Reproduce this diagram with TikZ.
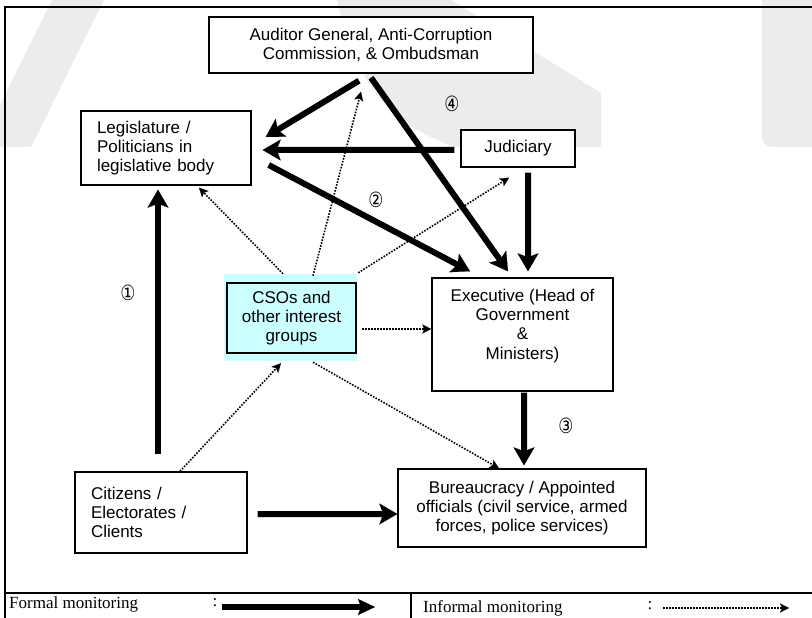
\documentclass[tikz,border=0pt]{standalone}
\usepackage{graphicx}
\usepackage{fontspec}
\setmainfont{Liberation Sans}
\newfontfamily\legendfont{Liberation Serif}
\newfontfamily\circfont{DejaVu Sans}
\usetikzlibrary{arrows.meta,calc}
\definecolor{csocyan}{RGB}{204,255,255}
\definecolor{wmgray}{RGB}{236,236,236}
\begin{document}
\begin{tikzpicture}[x=1bp,y=-1bp,
  box/.style={draw, line width=1.4bp, fill=white, inner sep=0pt,
    font=\fontsize{17bp}{19.3bp}\selectfont},
  boxtext/.style={inner sep=0pt, font=\fontsize{17bp}{19.3bp}\selectfont},
  formal/.style={line width=6bp, -{Stealth[length=18bp,width=21bp,inset=4bp,line width=0.1bp]}},
  formallegend/.style={line width=5.5bp, -{Stealth[length=17bp,width=16bp,inset=3bp,line width=0.1bp]}},
  informal/.style={line width=1.6bp, dash pattern=on 1.6bp off 1.4bp,
    -{Stealth[length=9bp,width=9bp,inset=2bp,line width=0.1bp]}},
  num/.style={inner sep=0pt, font=\circfont\fontsize{21bp}{21bp}\selectfont},
  legendtext/.style={inner sep=0pt, font=\legendfont\fontsize{17bp}{19bp}\selectfont}]
\clip (0,0) rectangle (812,618);
\fill[white] (0,0) rectangle (812,618);
% faint watermark
\fill[wmgray] (0,147) -- (31,147) -- (104,0) -- (52,0) -- (0,105) -- cycle;
\fill[wmgray] (337,0) -- (451,0) -- (601,93) -- (601,147) -- (455,147)
  .. controls (395,125) and (360,95) .. (337,0) -- cycle;
\fill[wmgray, rounded corners=10bp] (762,-20) rectangle (840,147);
% frame
\draw[line width=2bp] (5,630) -- (5,7) -- (830,7);
\draw[line width=2bp] (5,593) -- (830,593);
\draw[line width=1.5bp] (411,593) -- (411,630);
% cso halo
\fill[csocyan] (224,274) rectangle (357,361);
% boxes
\node[box, minimum width=324bp, minimum height=56bp, align=center] (aud) at (371,45)
  {Auditor General, Anti-Corruption\\Commission, \& Ombudsman};
\node[box, minimum width=170bp, minimum height=74bp, text width=138bp, inner xsep=16bp, align=left] (leg) at (166,148)
  {Legislature /\\Politicians in\\legislative body};
\node[box, minimum width=114bp, minimum height=37bp] (jud) at (518,148.5) {Judiciary};
\node[box, fill=csocyan, line width=2.5bp, minimum width=129bp, minimum height=70bp, align=center] (cso) at (291.5,318)
  {CSOs and\\other interest\\groups};
\node[box, minimum width=181bp, minimum height=113bp] (exe) at (522.5,334.5) {};
\node[boxtext, align=center, anchor=north] (exetext) at ($(exe.north)+(0,11.5)$)
  {Executive (Head of\\Government\\\&\\Ministers)};
\node[box, minimum width=172bp, minimum height=81bp, text width=140bp, inner xsep=16bp, align=left] (cit) at (161,512.5)
  {Citizens /\\Electorates /\\Clients};
\node[box, minimum width=248bp, minimum height=78bp, align=center] (bur) at (522,508)
  {Bureaucracy / Appointed\\officials (civil service, armed\\forces, police services)};
% numbers
\node[num] (n1) at (128,293) {\scalebox{0.8}[1]{①}};
\node[num] (n2) at (376,200) {\scalebox{0.8}[1]{②}};
\node[num] (n3) at (566,426) {\scalebox{0.8}[1]{③}};
\node[num] (n4) at (452,104) {\scalebox{0.8}[1]{④}};
% formal monitoring
\draw[formal] ($(aud.south)+(-12,7)$) -- ($(leg.east)+(14,-11)$);
\draw[formal] ($(aud.south)+(0,4)$) -- ($(exe.north)+(-14.5,-6)$);
\draw[formal] ($(jud.west)+(-6,1.5)$) -- ($(leg.east)+(11,2)$);
\draw[formal] ($(leg.east)+(17,17)$) -- ($(exe.north)+(-52.5,-6)$);
\draw[formal] ($(jud.south)+(10,5)$) -- ($(exe.north)+(5.5,-6)$);
\draw[formal] ($(exe.south)+(1.5,1)$) -- ($(bur.north)+(2,-3)$);
\draw[formal] ($(cit.north)+(-3,-17)$) -- ($(leg.south)+(-8,4)$);
\draw[formal] ($(cit.east)+(10,1.5)$) -- ($(bur.west)+(0,6)$);
% informal monitoring
\draw[informal] ($(cso.north)+(-8.5,-8)$) -- ($(leg.south)+(33,2)$);
\draw[informal] ($(cso.north)+(21.5,-6)$) -- ($(aud.south)+(-10,18)$);
\draw[informal] ($(cso.north east)+(1,-9)$) -- ($(jud.south)+(-9,10)$);
\draw[informal] ($(cso.east)+(5,11)$) -- ($(exe.west)+(0,-5.5)$);
\draw[informal] ($(cso.south)+(21.5,8)$) -- ($(bur.north)+(-23,0)$);
\draw[informal] ($(cit.north)+(19,0)$) -- ($(cso.south)+(-10.5,9)$);
% legend
\node[legendtext, anchor=base west] (lf) at (9,608) {Formal monitoring};
\node[legendtext, anchor=base] (lfc) at (215,606) {:};
\coordinate (lfa) at (222,607);
\coordinate (lfb) at (375,607);
\draw[formallegend] (lfa) -- (lfb);
\node[legendtext, anchor=base west] (li) at (423,612) {Informal monitoring};
\node[legendtext, anchor=base] (lic) at (650,609) {:};
\coordinate (lia) at (663,608);
\coordinate (lib) at (789,608);
\draw[informal] (lia) -- (lib);
\end{tikzpicture}
\end{document}
